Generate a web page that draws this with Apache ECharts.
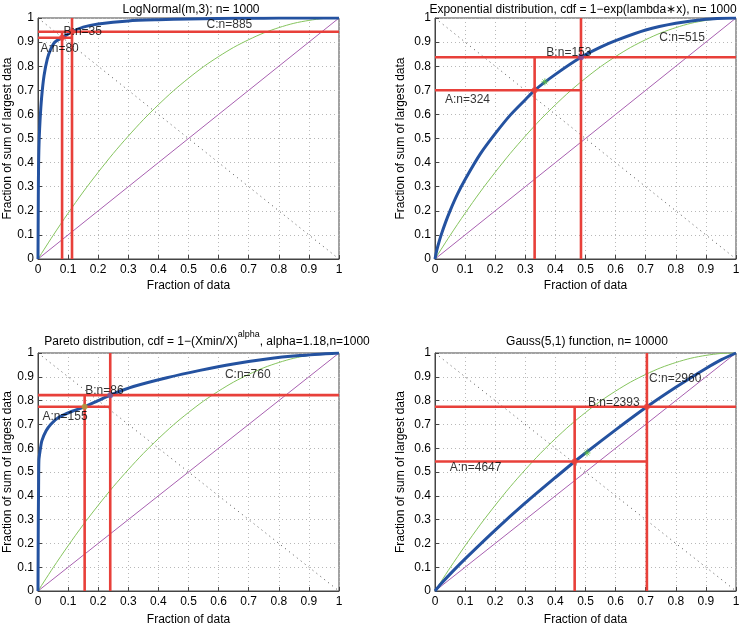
<!DOCTYPE html>
<html><head><meta charset="utf-8">
<script src="https://cdn.jsdelivr.net/npm/echarts@6/dist/echarts.min.js"></script>
<style>html,body{margin:0;padding:0;background:#fff}#c{width:745px;height:627px}</style>
</head><body><div id="c"></div>
<script>
// ---------- data ----------
const xAxisTitle = 'Fraction of data';
const yAxisTitle = 'Fraction of sum of largest data';
const panelTitles = [
  '{n|LogNormal(m,3); n= 1000}',
  '{n|Exponential distribution, cdf = 1\u2212exp(lambda\u2217x), n= 1000}',
  '{n|Pareto distribution, cdf = 1\u2212(Xmin/X)}{sup|alpha}{n|, alpha=1.18,n=1000}',
  '{n|Gauss(5,1) function, n= 10000}'
];

// blue (thick) curves
const lognormX = [0, 0.001, 0.002, 0.004, 0.007, 0.012, 0.02, 0.031, 0.042, 0.056, 0.08, 0.113, 0.15, 0.2, 0.3, 0.4, 0.5, 0.6, 0.7, 0.8, 0.9, 1];
const lognormY = [0, 0.25, 0.40, 0.50, 0.58, 0.67, 0.76, 0.83, 0.87, 0.90, 0.918, 0.943, 0.962, 0.975, 0.988, 0.993, 0.996, 0.998, 0.999, 0.9995, 0.9998, 1];

const expoX = [0, 0.005, 0.01, 0.02, 0.035, 0.05, 0.075, 0.1, 0.15, 0.2, 0.25, 0.3, 0.331, 0.4, 0.485, 0.55, 0.6, 0.7, 0.8, 0.9, 1];
const expoY = [0, 0.031, 0.056, 0.098, 0.152, 0.20, 0.27, 0.33, 0.435, 0.52, 0.597, 0.661, 0.70, 0.766, 0.837, 0.879, 0.906, 0.95, 0.978, 0.995, 1];

const paretoX = [0, 0.001, 0.002, 0.003, 0.007, 0.013, 0.027, 0.042, 0.068, 0.117, 0.155, 0.2, 0.24, 0.317, 0.428, 0.538, 0.649, 0.76, 0.87, 1];
const paretoY = [0, 0.30, 0.44, 0.55, 0.59, 0.632, 0.673, 0.70, 0.729, 0.757, 0.774, 0.80, 0.823, 0.859, 0.896, 0.927, 0.954, 0.975, 0.989, 1];

const gaussX = [0, 0.02, 0.05, 0.1, 0.2, 0.3, 0.4, 0.464, 0.5, 0.6, 0.704, 0.8, 0.9, 0.95, 1];
const gaussY = [0, 0.03, 0.071, 0.135, 0.256, 0.37, 0.477, 0.544, 0.58, 0.677, 0.774, 0.856, 0.935, 0.971, 1];

// green (thin) reference curve, identical in all panels
const greenX = [0, 0.05, 0.1, 0.15, 0.2, 0.25, 0.3, 0.35, 0.4, 0.45, 0.5, 0.55, 0.6, 0.65, 0.7, 0.75, 0.8, 0.85, 0.9, 0.95, 1];
const greenY = [0, 0.0975, 0.19, 0.278, 0.36, 0.438, 0.51, 0.578, 0.64, 0.698, 0.75, 0.798, 0.84, 0.878, 0.91, 0.938, 0.96, 0.978, 0.99, 0.998, 1];

// diagonal lines
const diagX = [0, 1];
const diagY = [0, 1];
const antiY = [1, 0];

// marked points A and B per panel
const pointAx = [0.08, 0.331, 0.155, 0.464];
const pointAy = [0.918, 0.70, 0.774, 0.544];
const pointBx = [0.113, 0.485, 0.24, 0.704];
const pointBy = [0.943, 0.837, 0.823, 0.774];

// text labels (left edge, vertical centre)
const labelA = ['A:n=80', 'A:n=324', 'A:n=155', 'A:n=4647'];
const labelAx = [0.008, 0.033, 0.015, 0.049];
const labelAy = [0.871, 0.66, 0.734, 0.518];
const labelB = ['B:n=35', 'B:n=153', 'B:n=86', 'B:n=2393'];
const labelBx = [0.085, 0.37, 0.157, 0.508];
const labelBy = [0.945, 0.855, 0.84, 0.792];
const labelC = ['C:n=885', 'C:n=515', 'C:n=760', 'C:n=2960'];
const labelCx = [0.56, 0.745, 0.621, 0.711];
const labelCy = [0.972, 0.917, 0.91, 0.893];

// small green asterisk markers
const starX = [null, 0.365, null, 0.505];
const starY = [null, 0.735, null, 0.58];

// ---------- layout & styles ----------
const FONT = '"Liberation Sans", Arial, Helvetica, sans-serif';
const blueX = [lognormX, expoX, paretoX, gaussX];
const blueY = [lognormY, expoY, paretoY, gaussY];
const grids = [
  {left: 38, top: 18, width: 301, height: 241},
  {left: 435, top: 18, width: 301, height: 241},
  {left: 38, top: 353, width: 301, height: 241},
  {left: 435, top: 353, width: 301, height: 241}
];
const titleCenters = [[191, -2], [583, -2], [207, 330], [587, 330]];
const markerAColor = ['#e8403a', '#e8403a', '#a8a040', '#e8403a'];
const markerBColor = ['#e8403a', '#7a4aa0', '#6a5aa0', '#e8403a'];

const zip = (xs, ys) => xs.map((x, i) => [x, ys[i]]);
const RED = '#e8403a';

const xAxes = [], yAxes = [], series = [], graphics = [];
grids.forEach((g, i) => {
  xAxes.push({
    type: 'value', gridIndex: i, min: 0, max: 1, interval: 0.1,
    name: xAxisTitle, nameLocation: 'middle', nameGap: i < 2 ? 21 : 23,
    nameTextStyle: {fontSize: 12, color: '#000', fontFamily: FONT},
    axisLine: {show: true, onZero: false, lineStyle: {color: '#444'}},
    axisTick: {show: true, inside: true, length: 4, lineStyle: {color: '#444'}},
    axisLabel: {fontSize: 12, color: '#000', margin: 5, fontFamily: FONT},
    splitLine: {show: true, lineStyle: {color: '#b8b8b8', type: [1, 3]}}
  });
  yAxes.push({
    type: 'value', gridIndex: i, min: 0, max: 1, interval: 0.1,
    name: yAxisTitle, nameLocation: 'middle', nameGap: i % 2 ? 28 : 24,
    nameTextStyle: {fontSize: 12, color: '#000', fontFamily: FONT},
    axisLine: {show: true, onZero: false, lineStyle: {color: '#444'}},
    axisTick: {show: true, inside: true, length: 4, lineStyle: {color: '#444'}},
    axisLabel: {fontSize: 12, color: '#000', margin: 4, fontFamily: FONT},
    splitLine: {show: true, lineStyle: {color: '#b8b8b8', type: [1, 3]}}
  });
  const base = {xAxisIndex: i, yAxisIndex: i, symbol: 'none', silent: true, animation: false};
  series.push(Object.assign({}, base, {type: 'line', data: zip(diagX, antiY), lineStyle: {color: '#555', width: 1, type: [1, 4]}, z: 2}));
  series.push(Object.assign({}, base, {type: 'line', data: zip(diagX, diagY), lineStyle: {color: '#a860b0', width: 1}, z: 3}));
  series.push(Object.assign({}, base, {type: 'line', data: zip(greenX, greenY), smooth: 0.3, lineStyle: {color: '#86c45e', width: 1}, z: 3}));
  series.push(Object.assign({}, base, {type: 'line', data: zip(blueX[i], blueY[i]), smooth: 0.25, lineStyle: {color: '#2452a0', width: 3}, z: 4}));
  const ax = pointAx[i], ay = pointAy[i], bx = pointBx[i], by = pointBy[i];
  const segs = [
    [[0, ay], [bx, ay]],
    [[ax, 0], [ax, by]],
    [[0, by], [1, by]],
    [[bx, 0], [bx, 1]]
  ];
  segs.forEach(s => series.push(Object.assign({}, base, {type: 'line', data: s, lineStyle: {color: RED, width: 2.6}, z: 5})));
  series.push(Object.assign({}, base, {type: 'scatter', symbol: 'circle', symbolSize: 6, data: [[ax, ay]], itemStyle: {color: markerAColor[i]}, z: 6}));
  series.push(Object.assign({}, base, {type: 'scatter', symbol: 'circle', symbolSize: 6, data: [[bx, by]], itemStyle: {color: markerBColor[i]}, z: 6}));
  if (starX[i] !== null) {
    series.push(Object.assign({}, base, {type: 'scatter',
      symbol: 'path://M0,5L10,5M5,0L5,10M1.5,1.5L8.5,8.5M8.5,1.5L1.5,8.5', symbolSize: 7,
      data: [[starX[i], starY[i]]], itemStyle: {color: 'none', borderColor: '#5cc040', borderWidth: 1}, z: 6}));
  }
  const lbl = (txt, x, y) => Object.assign({}, base, {type: 'scatter', symbol: 'circle', symbolSize: 0,
    data: [[x, y]], z: 7,
    label: {show: true, position: 'right', distance: 0, formatter: txt, fontSize: 12, color: '#000', fontFamily: FONT}});
  series.push(lbl(labelA[i], labelAx[i], labelAy[i]));
  series.push(lbl(labelB[i], labelBx[i], labelBy[i]));
  series.push(lbl(labelC[i], labelCx[i], labelCy[i]));

  graphics.push({
    type: 'text', x: titleCenters[i][0], y: titleCenters[i][1], silent: true,
    style: {
      text: panelTitles[i], fill: '#000',
      textAlign: 'center', textVerticalAlign: 'top', align: 'center', verticalAlign: 'top',
      rich: {
        n: {fontSize: 12, fontFamily: FONT, fill: '#000', lineHeight: 18, verticalAlign: 'bottom'},
        sup: {fontSize: 9, fontFamily: FONT, fill: '#000', lineHeight: 10, verticalAlign: 'top'}
      }
    }
  });
});

const chart = echarts.init(document.getElementById('c'), null, {renderer: 'canvas'});
chart.setOption({
  backgroundColor: '#fff',
  animation: false,
  grid: grids.map(g => Object.assign({show: true, borderColor: '#444', borderWidth: 1, backgroundColor: 'transparent'}, g)),
  xAxis: xAxes,
  yAxis: yAxes,
  series: series,
  graphic: graphics
});
</script></body></html>
